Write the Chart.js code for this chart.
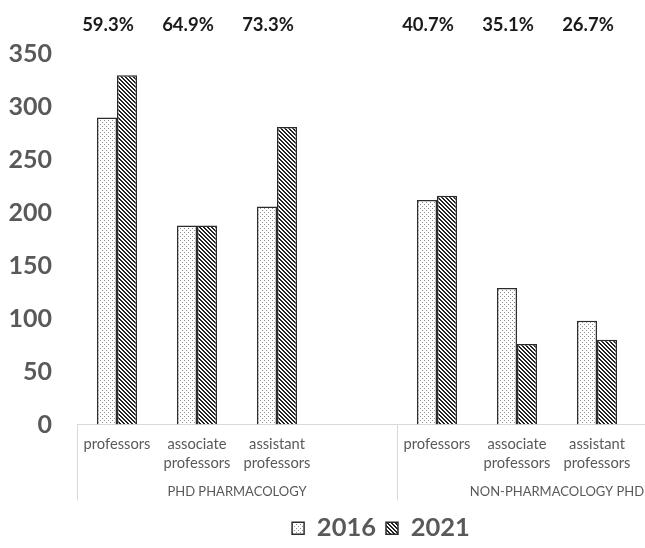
<!DOCTYPE html>
<html>
<head>
<meta charset="utf-8">
<script src="https://cdn.jsdelivr.net/npm/chart.js@4/dist/chart.umd.min.js"></script>
<style>
  html, body { margin: 0; padding: 0; background: #ffffff; overflow: hidden; }
  #wrap { width: 762px; height: 551px; }
</style>
</head>
<body>
<div id="wrap"><canvas id="chart" width="762" height="551"></canvas></div>
<script>
// Faculty counts by rank, split by degree background (empty slot closes each group)
const categories = [
  'professors', ['associate', 'professors'], ['assistant', 'professors'], '',
  'professors', ['associate', 'professors'], ['assistant', 'professors'], ''
];
const groups = ['PHD PHARMACOLOGY', 'NON-PHARMACOLOGY PHD'];
const values2016 = [290, 188, 206, null, 212, 129, 98, null];
const values2021 = [330, 188, 281, null, 216, 76, 80, null];
const shares = ['59.3%', '64.9%', '73.3%', null, '40.7%', '35.1%', '26.7%', null];
const yTicks = [0, 50, 100, 150, 200, 250, 300, 350];

const GREY = '#595959';
const LINE = '#d9d9d9';

function tile(draw) {
  const c = document.createElement('canvas');
  c.width = 4; c.height = 4;
  const g = c.getContext('2d');
  g.fillStyle = '#ffffff';
  g.fillRect(0, 0, 4, 4);
  draw(g);
  return g.createPattern(c, 'repeat');
}
// light dotted fill
const dots = tile(g => {
  g.fillStyle = '#8a8a8a';
  g.fillRect(0, 0, 1, 1);
  g.fillRect(2, 2, 1, 1);
});
// dark downward-diagonal stripes
const stripes = tile(g => {
  g.fillStyle = '#222222';
  for (let y = 0; y < 4; y++)
    for (let x = 0; x < 4; x++)
      if ((((x - y) % 4) + 4) % 4 < 2) g.fillRect(x, y, 1, 1);
});

// group separators, group names and share labels above the bars
const decorations = {
  id: 'decorations',
  afterDraw(chart) {
    const x = chart.scales.x;
    const ctx = chart.ctx;
    const slot = (x.right - x.left) / categories.length;
    const half = categories.length / 2;
    ctx.save();
    ctx.strokeStyle = LINE;
    ctx.lineWidth = 1;
    [0, half, categories.length].forEach(i => {
      const px = Math.round(x.left + i * slot) + 0.5;
      ctx.beginPath();
      ctx.moveTo(px, x.top);
      ctx.lineTo(px, x.top + 76);
      ctx.stroke();
    });
    ctx.fillStyle = GREY;
    ctx.font = '13px Lato';
    ctx.textAlign = 'center';
    ctx.textBaseline = 'middle';
    groups.forEach((name, gi) => {
      const cx = x.left + (gi * half + half / 2) * slot;
      ctx.fillText(name, cx, x.top + 67);
    });
    ctx.fillStyle = '#1a1a1a';
    ctx.font = 'bold 18.5px Lato';
    shares.forEach((s, i) => {
      if (s === null) return;
      ctx.fillText(s, x.getPixelForValue(i) - 9, 25);
    });
    ctx.restore();
  }
};

new Chart(document.getElementById('chart'), {
  type: 'bar',
  data: {
    labels: categories,
    datasets: [
      {
        label: '2016',
        data: values2016,
        backgroundColor: dots,
        borderColor: '#2b2b2b',
        borderWidth: 1.5,
        borderSkipped: 'bottom'
      },
      {
        label: '2021',
        data: values2021,
        backgroundColor: stripes,
        borderColor: '#2b2b2b',
        borderWidth: 1.5,
        borderSkipped: 'bottom'
      }
    ]
  },
  options: {
    responsive: false,
    animation: false,
    layout: { padding: { top: 54, left: 0, right: 0, bottom: 0 } },
    datasets: { bar: { categoryPercentage: 0.5, barPercentage: 1.0 } },
    plugins: {
      tooltip: { enabled: false },
      legend: {
        position: 'bottom',
        labels: {
          boxWidth: 12,
          boxHeight: 12,
          padding: 10,
          color: GREY,
          font: { family: 'Lato', size: 25.5, weight: 'bold' }
        }
      }
    },
    scales: {
      x: {
        grid: { display: false, drawTicks: false },
        border: { display: true, color: LINE, width: 1 },
        ticks: {
          color: GREY,
          padding: 10,
          maxRotation: 0,
          autoSkip: false,
          font: { family: 'Lato', size: 14.7, lineHeight: 1.3 }
        },
        afterFit(scale) { scale.height = 81; }
      },
      y: {
        min: 0,
        max: 350,
        afterBuildTicks(scale) { scale.ticks = yTicks.map(v => ({ value: v })); },
        grid: { display: false, drawTicks: false },
        border: { display: false },
        ticks: {
          color: GREY,
          padding: 25,
          font: { family: 'Lato', size: 25, weight: 'bold' }
        },
        afterFit(scale) { scale.width = 77; }
      },
      // blank right-hand margin so the chart area ends short of the canvas edge
      yRight: {
        position: 'right',
        min: 0,
        max: 350,
        grid: { display: false, drawTicks: false },
        border: { display: false },
        ticks: { display: false },
        afterFit(scale) { scale.width = 45; }
      }
    }
  },
  plugins: [decorations]
});
</script>
</body>
</html>
